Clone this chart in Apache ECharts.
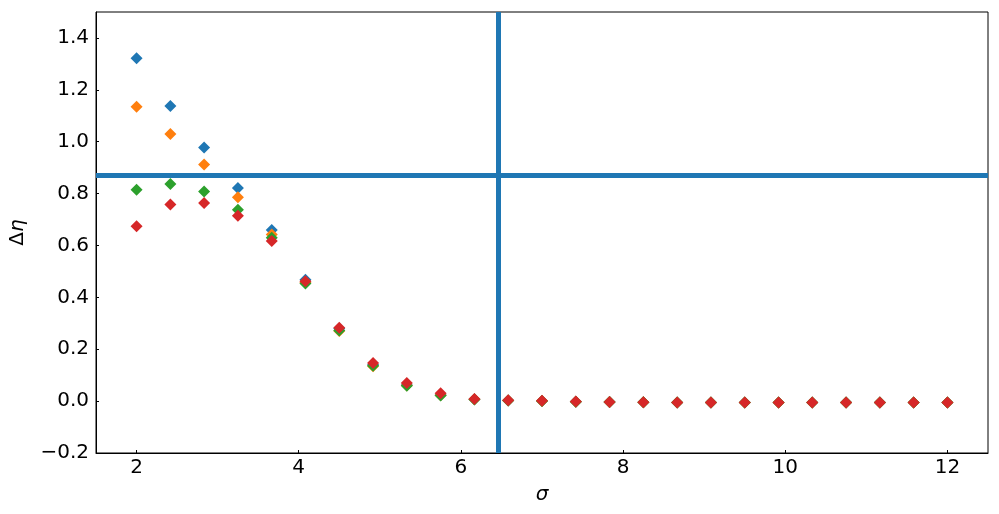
<!DOCTYPE html>
<html>
<head>
<meta charset="utf-8">
<script src="https://cdn.jsdelivr.net/npm/echarts@6/dist/echarts.min.js"></script>
<style>
  html, body { margin: 0; padding: 0; background: #fff; }
  #chart { width: 999px; height: 514px; }
</style>
</head>
<body>
<div id="chart"></div>
<script>
// sigma values
const sigma = [2, 2.417, 2.833, 3.25, 3.667, 4.083, 4.5, 4.917, 5.333, 5.75, 6.167, 6.583, 7,
  7.417, 7.833, 8.25, 8.667, 9.083, 9.5, 9.917, 10.333, 10.75, 11.167, 11.583, 12]
// delta eta, four runs
const blue = [1.322, 1.138, 0.978, 0.822, 0.660, 0.468, 0.280, 0.140, 0.062, 0.024, 0.007, 0.002, 0.000,
  -0.002, -0.003, -0.004, -0.005, -0.005, -0.005, -0.005, -0.005, -0.005, -0.005, -0.005, -0.005]
const orange = [1.135, 1.030, 0.912, 0.786, 0.642, 0.457, 0.270, 0.134, 0.060, 0.023, 0.007, 0.002, 0.000,
  -0.002, -0.003, -0.004, -0.005, -0.005, -0.005, -0.005, -0.005, -0.005, -0.005, -0.005, -0.005]
const green = [0.815, 0.837, 0.808, 0.738, 0.630, 0.453, 0.272, 0.136, 0.059, 0.022, 0.006, 0.002, 0.000,
  -0.002, -0.003, -0.004, -0.005, -0.005, -0.005, -0.005, -0.005, -0.005, -0.005, -0.005, -0.005]
const red = [0.674, 0.758, 0.764, 0.715, 0.617, 0.462, 0.283, 0.147, 0.070, 0.030, 0.008, 0.003, 0.001,
  -0.001, -0.003, -0.004, -0.005, -0.005, -0.005, -0.005, -0.005, -0.005, -0.005, -0.005, -0.005]
// tick labels
const xTicks = [2, 4, 6, 8, 10, 12]
const yTicks = [-0.2, 0, 0.2, 0.4, 0.6, 0.8, 1.0, 1.2, 1.4]
// reference lines
const vLine = 6.456
const hLine = 0.874

const colors = ['#1f77b4', '#ff7f0e', '#2ca02c', '#d62728']
const runs = [blue, orange, green, red]

const font = 'DejaVu Sans'
let mycharts = echarts.init(document.getElementById('chart'))

const series = runs.map((vals, i) => ({
  type: 'scatter',
  symbol: 'diamond',
  symbolSize: 12,
  itemStyle: { color: colors[i], opacity: 1 },
  data: sigma.map((s, k) => [s, vals[k]]),
  z: 3 + i,
}))
// axhline / axvline
series.push({
  type: 'scatter',
  data: [],
  markLine: {
    silent: true,
    symbol: 'none',
    label: { show: false },
    lineStyle: { color: '#1f77b4', width: 5, type: 'solid' },
    data: [{ xAxis: vLine }, { yAxis: hLine }],
  },
  z: 10,
})

var option = {
  animation: false,
  grid: {
    left: 96, right: 11, top: 12, bottom: 61,
    show: true, borderColor: '#000', borderWidth: 1,
  },
  xAxis: {
    type: 'value',
    min: 1.5,
    max: 12.5,
    name: 'σ',
    nameLocation: 'middle',
    nameGap: 32,
    nameTextStyle: { fontFamily: font, fontSize: 20, fontStyle: 'italic', color: '#000' },
    axisLine: { show: true, onZero: false, lineStyle: { color: '#000', width: 1 } },
    axisTick: { show: true, inside: true, length: 3, lineStyle: { color: '#000' }, customValues: xTicks },
    axisLabel: { fontFamily: font, fontSize: 20, color: '#000', margin: 5, customValues: xTicks },
    splitLine: { show: false },
  },
  yAxis: {
    type: 'value',
    min: -0.2,
    max: 1.5,
    name: '{a|Δ}{b|η}',
    nameLocation: 'middle',
    nameRotate: 90,
    nameGap: 68,
    nameTextStyle: {
      color: '#000',
      rich: {
        a: { fontFamily: font, fontSize: 20, color: '#000' },
        b: { fontFamily: font, fontSize: 20, fontStyle: 'italic', color: '#000' },
      },
    },
    axisLine: { show: true, onZero: false, lineStyle: { color: '#000', width: 1 } },
    axisTick: { show: true, inside: true, length: 3, lineStyle: { color: '#000' }, customValues: yTicks },
    axisLabel: {
      fontFamily: font, fontSize: 20, color: '#000', margin: 7,
      customValues: yTicks,
      formatter: v => (v < 0 ? '\u2212' : '') + Math.abs(v).toFixed(1),
    },
    splitLine: { show: false },
  },
  series: series,
}

mycharts.setOption(option)
</script>
</body>
</html>
